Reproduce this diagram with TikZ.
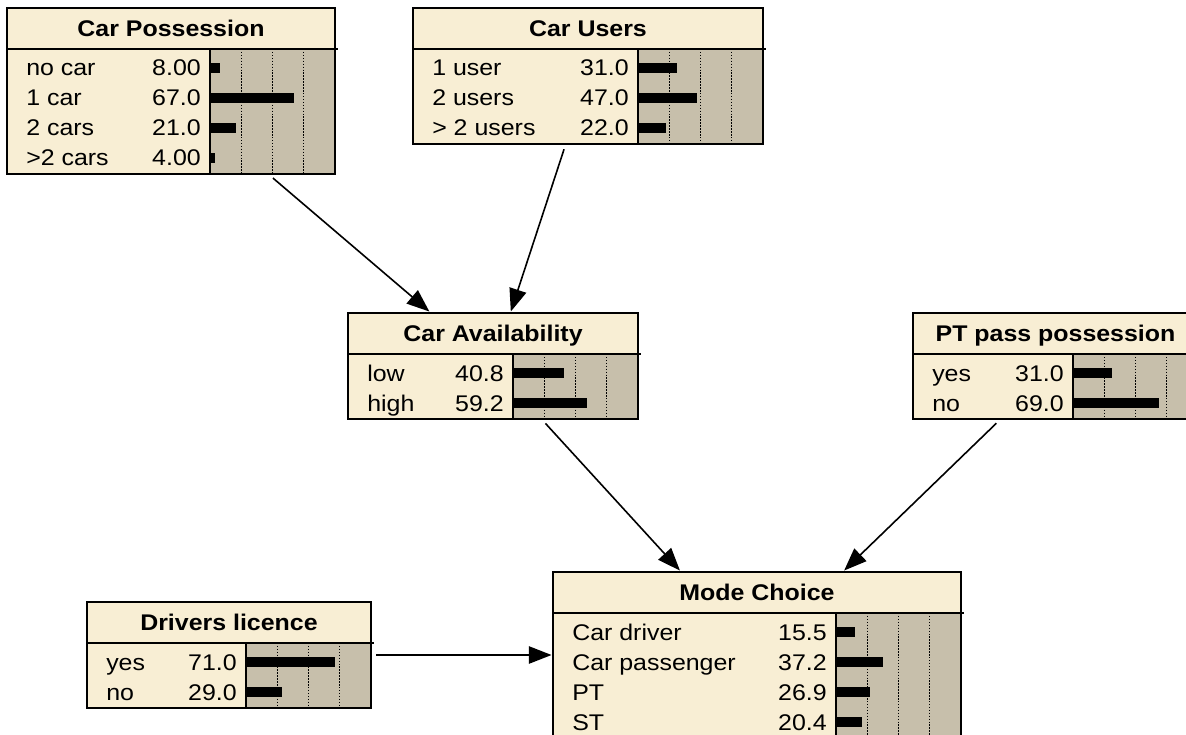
\documentclass[tikz,border=0pt]{standalone}
\usepackage{fontspec}
\setmainfont[FakeStretch=1.1]{Liberation Sans}
\usepackage{tikz}
\usetikzlibrary{arrows.meta}
\definecolor{nodecream}{RGB}{248,238,212}
\definecolor{bartan}{RGB}{199,191,171}
\tikzset{
  nodebox/.style={draw=black, line width=2.2pt, inner sep=0pt, rectangle},
  divider/.style={line width=1.2pt},
  gridline/.style={line width=1.1pt, dash pattern=on 1.1pt off 1.1pt},
  titletext/.style={font=\fontsize{17}{19}\selectfont\bfseries, inner sep=0pt},
  statetext/.style={font=\fontsize{17}{19}\selectfont, inner sep=0pt},
  link/.style={line width=1.2pt, -{Triangle[length=17pt,width=13pt]}, shorten <=3pt},
}
% belief node: #1 name, #2 left, #3 top, #4 width of the text part,
% #5 number of states, #6 title, #7 state/value list
\newcommand{\beliefnode}[7]{%
  \begin{scope}[shift={(#2,#3)}]
    \pgfmathsetmacro\boxw{#4+125}
    \pgfmathsetmacro\boxh{41+30*#5+5}
    \fill[nodecream] (0,0) rectangle (\boxw,\boxh);
    \fill[bartan] (#4,41) rectangle (\boxw,\boxh);
    \foreach \g in {0.25,0.5,0.75}
      \draw[gridline] ({#4+125*\g},41) -- ({#4+125*\g},\boxh);
    \draw[divider] (0,41) -- ({\boxw+3},41);
    \draw[divider] (#4,41) -- (#4,\boxh);
    \node[titletext, anchor=base] at ({\boxw/2},28.5) {#6};
    \foreach \lab/\val [count=\i] in {#7} {
      \pgfmathsetmacro\rowy{30+30*\i}
      \node[statetext, anchor=base west] at (19,{\rowy+8}) {\lab};
      \node[statetext, anchor=base east] at ({#4-9},{\rowy+8}) {\val};
      \fill (#4,{\rowy-5}) rectangle ({#4+1.25*\val},{\rowy+5});
    }
    \node[nodebox, minimum width=0.75pt*\boxw, minimum height=0.75pt*\boxh]
      (#1) at ({\boxw/2},{\boxh/2}) {};
  \end{scope}}

\begin{document}
\begin{tikzpicture}[x=0.75pt, y=-0.75pt]
  \path[use as bounding box, clip] (0,0) rectangle (1186,735);
  % Parent nodes
  \beliefnode{carpos}{7}{8}{203}{4}{Car Possession}
    {no car/8.00, 1 car/67.0, 2 cars/21.0, >2 cars/4.00}
  \beliefnode{carusers}{413}{8}{225}{3}{Car Users}
    {1 user/31.0, 2 users/47.0, > 2 users/22.0}
  % Middle layer
  \beliefnode{caravail}{348}{313}{165}{2}{Car Availability}
    {low/40.8, high/59.2}
  \beliefnode{ptpass}{913}{313}{160}{2}{PT pass possession}
    {yes/31.0, no/69.0}
  % Bottom layer
  \beliefnode{licence}{87}{602}{159}{2}{Drivers licence}
    {yes/71.0, no/29.0}
  \beliefnode{mode}{553}{572}{283}{4}{Mode Choice}
    {Car driver/15.5, Car passenger/37.2, PT/26.9, ST/20.4}
  % Links
  \draw[link] (carpos) -- (caravail);
  \draw[link] (carusers) -- (caravail);
  \draw[link] (caravail) -- (mode);
  \draw[link] (ptpass) -- (mode);
  \draw[link] (licence) -- (mode);
\end{tikzpicture}
\end{document}
